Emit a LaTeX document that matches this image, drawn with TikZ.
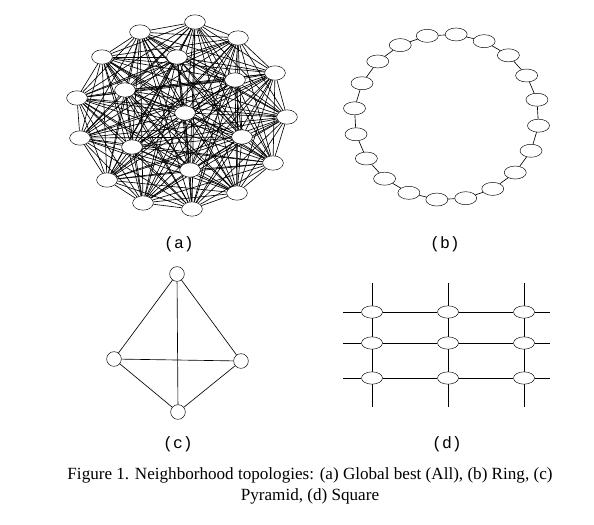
\documentclass[tikz,border=0pt]{standalone}
\usepackage{fontspec}
\setmainfont{Liberation Serif}
\newfontfamily\subfont{Liberation Mono}
\usetikzlibrary{shapes.geometric, backgrounds}
\tikzset{
  pt/.style={ellipse, draw, fill=white, thin, minimum width=6.2mm, minimum height=4.3mm, inner sep=0pt},
  rpt/.style={pt, minimum width=6.6mm, minimum height=3.9mm},
  cpt/.style={circle, draw, fill=white, thin, minimum size=4.4mm, inner sep=0pt},
  gpt/.style={pt, minimum width=6.3mm, minimum height=3.7mm},
  lnk/.style={draw, line width=0.55pt},
  sub/.style={font=\subfont\fontsize{14}{16}\selectfont},
  captxt/.style={font=\fontsize{14.6}{18}\selectfont, align=center}
}

\begin{document}
\begin{tikzpicture}[x=0.03cm, y=-0.03cm]
	\useasboundingbox (0,0) rectangle (594,524);
	% (a) everyone linked to everyone
	\foreach \n/\x/\y in {1/195/22, 2/140/32, 3/238/38, 4/102/57, 5/177/57,
		6/275/73, 7/235/80, 8/125/90, 9/77/98, 10/185/113, 11/287/117,
		12/242/137, 13/80/138, 14/132/147, 15/273/163, 16/190/170,
		17/107/180, 18/237/193, 19/143/203, 20/192/209}
		\node[pt] (a\n) at (\x,\y) {};
	\begin{scope}[on background layer]
		\foreach \i in {1,...,19}{
			\pgfmathtruncatemacro\k{\i+1}
			\foreach \j in {\k,...,20}
				\draw[lnk] (a\i) -- (a\j);
		}
	\end{scope}
	% (b) ring
	\foreach \i in {0,...,19}
		\node[rpt] (r\i) at ({446.5+92.5*cos(84+18*\i)}, {117-83*sin(84+18*\i)}) {};
	\foreach \i [evaluate=\i as \k using {int(mod(\i+1,20))}] in {0,...,19}
		\draw[lnk] (r\i) -- (r\k);
	% (c) pyramid
	\node[cpt] (ct) at (177,274) {};
	\node[cpt] (cl) at (114,359) {};
	\node[cpt] (cr) at (241,361) {};
	\node[cpt] (cb) at (178,412) {};
	\draw[lnk] (ct) -- (cl) -- (cb) -- (cr) -- (ct) -- (cb);
	\draw[lnk] (cl) -- (cr);
	% (d) square
	\foreach \c/\x in {1/372, 2/448, 3/524}
		\foreach \r/\y in {1/312, 2/343, 3/378}
			\node[gpt] (g\r\c) at (\x,\y) {};
	\foreach \r/\y in {1/312, 2/343, 3/378}{
		\coordinate (gw\r) at (343,\y);
		\coordinate (ge\r) at (550,\y);
	}
	\foreach \c/\x in {1/372, 2/448, 3/524}{
		\coordinate (gn\c) at (\x,283);
		\coordinate (gs\c) at (\x,407);
	}
	\begin{scope}[on background layer]
		\foreach \r in {1,2,3}
			\draw[lnk] (gw\r) -- (g\r1) -- (g\r2) -- (g\r3) -- (ge\r);
		\foreach \c in {1,2,3}
			\draw[lnk] (gn\c) -- (g1\c) -- (g2\c) -- (g3\c) -- (gs\c);
	\end{scope}
	% labels
	\node[sub] (la) at (179,244) {(a)};
	\node[sub] (lb) at (445,244) {(b)};
	\node[sub] (lc) at (178,444) {(c)};
	\node[sub] (ld) at (447,444) {(d)};
	\node[captxt] (cap) at (310,486) {Figure 1. Neighborhood topologies: (a) Global best (All), (b) Ring, (c)\\Pyramid, (d) Square};
\end{tikzpicture}
\end{document}
